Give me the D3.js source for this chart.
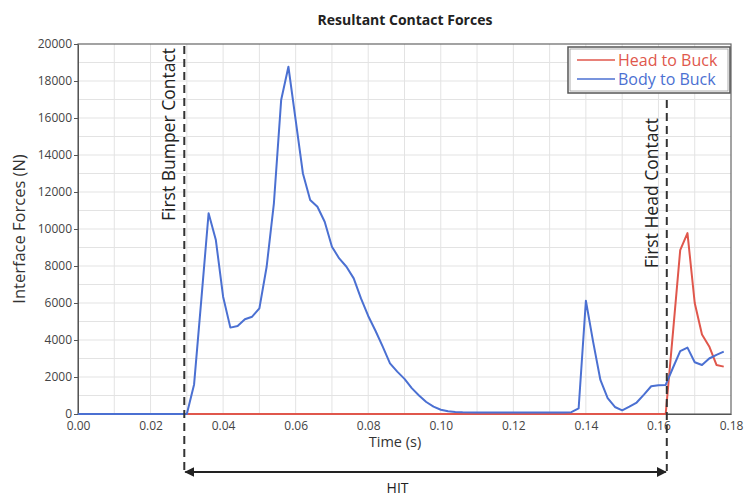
<!DOCTYPE html>
<meta charset="utf-8">
<style>
  body { margin: 0; background: #fff; }
  text { font-family: "Open Sans", sans-serif; }
  .grid line { stroke: #e3e3e3; stroke-width: 1; }
  .axis text { font-size: 12px; fill: #444; }
  .axis path, .axis line { stroke: #555; }
</style>

<svg width="744" height="497"></svg>
<script src="https://cdnjs.cloudflare.com/ajax/libs/d3/7.8.5/d3.min.js"></script>

<script>
const svg = d3.select("svg");

const margin = { top: 44, right: 13, bottom: 83, left: 78 },
  width = 744 - margin.left - margin.right,
  height = 497 - margin.top - margin.bottom;

// Body to Buck, [time s, force N]
const body_data = [
  [0.000, 0], [0.030, 0], [0.032, 1600], [0.034, 6200], [0.036, 10850],
  [0.038, 9400], [0.040, 6340], [0.042, 4670], [0.044, 4760], [0.046, 5120],
  [0.048, 5260], [0.050, 5710], [0.052, 7960], [0.054, 11390], [0.056, 16970],
  [0.058, 18770], [0.060, 15890], [0.062, 13000], [0.064, 11570], [0.066, 11200],
  [0.068, 10390], [0.070, 9040], [0.072, 8410], [0.074, 7960], [0.076, 7330],
  [0.078, 6250], [0.080, 5300], [0.082, 4500], [0.084, 3640], [0.086, 2740],
  [0.088, 2290], [0.090, 1900], [0.092, 1400], [0.094, 1000], [0.096, 650],
  [0.098, 400], [0.100, 230], [0.102, 150], [0.104, 110], [0.106, 90],
  [0.110, 80], [0.120, 80], [0.130, 80], [0.134, 80], [0.136, 100],
  [0.138, 300], [0.140, 6120], [0.142, 3900], [0.144, 1840], [0.146, 860],
  [0.148, 380], [0.150, 200], [0.152, 400], [0.154, 620], [0.156, 1050],
  [0.158, 1500], [0.160, 1560], [0.162, 1570], [0.164, 2500], [0.166, 3400],
  [0.168, 3590], [0.170, 2800], [0.172, 2650], [0.174, 3000], [0.176, 3200],
  [0.178, 3370]
];

// Head to Buck, [time s, force N]
const head_data = [
  [0.000, 0], [0.162, 0], [0.164, 4400], [0.166, 8860], [0.168, 9780],
  [0.170, 6000], [0.172, 4300], [0.174, 3650], [0.176, 2650], [0.178, 2560]
];

const series = [
  { name: "Head to Buck", color: "#e0574c", values: head_data },
  { name: "Body to Buck", color: "#4b70d2", values: body_data }
];

const x_ticks = [0, 0.02, 0.04, 0.06, 0.08, 0.10, 0.12, 0.14, 0.16, 0.18];
const y_ticks = [0, 2000, 4000, 6000, 8000, 10000, 12000, 14000, 16000, 18000, 20000];

// event markers
const first_bumper = 0.0293;
const first_head = 0.1623;

const x = d3.scaleLinear().domain([0, 0.18]).range([0, width]);
const y = d3.scaleLinear().domain([0, 20000]).range([height, 0]);

const g = svg.append("g")
  .attr("transform", `translate(${margin.left},${margin.top})`);

// grid
g.append("g")
  .attr("class", "grid")
  .selectAll("line.v")
  .data(d3.range(1, 18).map(i => i / 100))
  .enter().append("line")
    .attr("x1", d => x(d)).attr("x2", d => x(d))
    .attr("y1", 0).attr("y2", height);

g.append("g")
  .attr("class", "grid")
  .selectAll("line.h")
  .data(d3.range(1, 20).map(i => i * 1000))
  .enter().append("line")
    .attr("y1", d => y(d)).attr("y2", d => y(d))
    .attr("x1", 0).attr("x2", width);

// frame
g.append("rect")
  .attr("width", width).attr("height", height)
  .attr("fill", "none").attr("stroke", "#666").attr("stroke-width", 1.2);

g.append("g")
  .attr("class", "axis")
  .attr("transform", `translate(0,${height})`)
  .call(d3.axisBottom(x).tickValues(x_ticks).tickFormat(d3.format(".2f")).tickSize(0).tickPadding(7));

g.append("g")
  .attr("class", "axis")
  .call(d3.axisLeft(y).tickValues(y_ticks).tickFormat(d => d).tickSizeInner(4).tickSizeOuter(0).tickPadding(2));

// lines
const line = d3.line()
  .x(d => x(d[0]))
  .y(d => y(d[1]));

g.selectAll("path.series")
  .data(series)
  .enter().append("path")
    .attr("class", "series")
    .attr("fill", "none")
    .attr("stroke", d => d.color)
    .attr("stroke-width", 2)
    .attr("stroke-linejoin", "round")
    .attr("d", d => line(d.values));

// dashed event lines
const markers = [
  { t: first_bumper, top: 2, label: "First Bumper Contact", gap: 2 },
  { t: first_head, top: 56, label: "First Head Contact", gap: 18 }
];
const arrow_y = height + 58;

g.selectAll("line.marker")
  .data(markers)
  .enter().append("line")
    .attr("x1", d => x(d.t)).attr("x2", d => x(d.t))
    .attr("y1", d => d.top).attr("y2", arrow_y - 1)
    .attr("stroke", "#333")
    .attr("stroke-width", 2)
    .attr("stroke-dasharray", "8,5");

g.selectAll("text.marker")
  .data(markers)
  .enter().append("text")
    .attr("transform", d => `translate(${x(d.t) - 9},${d.top + d.gap}) rotate(-90)`)
    .attr("text-anchor", "end")
    .attr("font-size", 17.5)
    .attr("fill", "#222")
    .text(d => d.label);

// HIT arrow
svg.append("defs").append("marker")
  .attr("id", "head")
  .attr("viewBox", "0 0 10 10")
  .attr("refX", 9).attr("refY", 5)
  .attr("markerWidth", 5).attr("markerHeight", 5)
  .attr("orient", "auto-start-reverse")
  .append("path").attr("d", "M0,0L10,5L0,10z").attr("fill", "#222");

g.append("line")
  .attr("x1", x(first_bumper) + 1).attr("x2", x(first_head) - 1)
  .attr("y1", arrow_y).attr("y2", arrow_y)
  .attr("stroke", "#222").attr("stroke-width", 2)
  .attr("marker-start", "url(#head)")
  .attr("marker-end", "url(#head)");

g.append("text")
  .attr("x", (x(first_bumper) + x(first_head)) / 2 - 28)
  .attr("y", arrow_y + 21)
  .attr("text-anchor", "middle")
  .attr("font-size", 14)
  .attr("fill", "#222")
  .text("HIT");

// axis titles
svg.append("text")
  .attr("x", 395).attr("y", 447)
  .attr("text-anchor", "middle")
  .attr("font-size", 14.5)
  .attr("fill", "#333")
  .text("Time (s)");

svg.append("text")
  .attr("x", 405).attr("y", 25)
  .attr("text-anchor", "middle")
  .attr("font-size", 14).attr("font-weight", "bold")
  .attr("fill", "#222")
  .text("Resultant Contact Forces");

svg.append("text")
  .attr("transform", "translate(25,229) rotate(-90)")
  .attr("text-anchor", "middle")
  .attr("font-size", 16.5)
  .attr("fill", "#333")
  .text("Interface Forces (N)");

// legend
const legend = g.append("g").attr("transform", `translate(${width - 163},3)`);
legend.append("rect")
  .attr("width", 162).attr("height", 46)
  .attr("fill", "#fff").attr("stroke", "#555").attr("stroke-width", 1.5);
legend.append("rect")
  .attr("x", 2).attr("y", 2).attr("width", 158).attr("height", 42)
  .attr("fill", "none").attr("stroke", "#999").attr("stroke-width", 0.8);

const item = legend.selectAll("g.item")
  .data(series)
  .enter().append("g")
    .attr("transform", (d, i) => `translate(0,${13 + i * 19})`);
item.append("line")
  .attr("x1", 9).attr("x2", 47)
  .attr("stroke", d => d.color).attr("stroke-width", 1.5);
item.append("text")
  .attr("x", 50).attr("dy", "0.35em")
  .attr("font-size", 16)
  .attr("fill", d => d.color)
  .text(d => d.name);
</script>
